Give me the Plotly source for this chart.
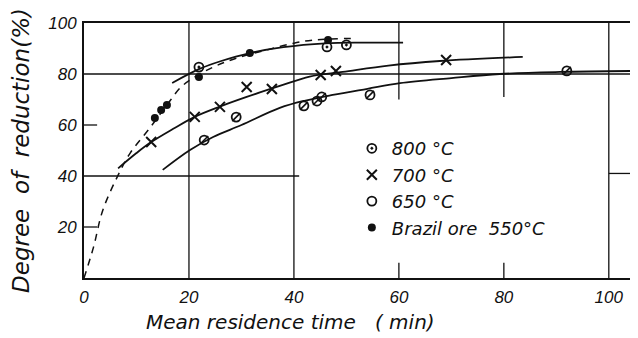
import plotly.graph_objects as go

# ---- data ----
x800 = [21.9, 46.3, 50.0]
y800 = [82.7, 90.6, 91.4]
x700 = [12.8, 21.1, 25.9, 31.0, 35.8, 45.1, 48.0, 69.0]
y700 = [53.3, 63.2, 67.1, 74.9, 74.1, 79.6, 81.2, 85.5]
x650 = [22.9, 29.0, 41.9, 44.4, 45.3, 54.5, 92.0]
y650 = [54.1, 63.1, 67.5, 69.4, 71.0, 71.8, 81.2]
xbr = [13.5, 14.7, 15.8, 21.9, 31.6, 46.5]
ybr = [62.7, 65.9, 67.8, 78.8, 88.2, 93.3]

# fitted curves as drawn in the original
c800_x = [16.8, 22.0, 26.0, 31.6, 38.0, 46.0, 53.0, 60.8]
c800_y = [76.5, 82.0, 85.0, 88.2, 90.5, 92.0, 92.3, 92.3]
c700_x = [6.5, 10.0, 12.8, 17.0, 21.1, 26.0, 31.0, 37.3, 43.0, 49.3, 58.0, 67.8, 83.6]
c700_y = [43.0, 49.0, 53.3, 58.5, 63.2, 67.3, 71.0, 75.3, 79.0, 80.8, 83.3, 85.1, 86.7]
c650_x = [15.0, 20.2, 24.6, 30.0, 37.3, 42.0, 47.4, 54.0, 60.2, 70.0, 79.2, 90.7, 104.8]
c650_y = [42.4, 50.2, 55.3, 60.0, 66.7, 69.5, 71.8, 74.2, 76.4, 78.4, 80.0, 80.8, 81.2]
cbr_x = [0.0, 1.8, 3.6, 6.9, 8.8, 12.6, 15.5, 18.3, 20.2, 24.6, 29.0, 34.8, 39.8, 43.6, 52.0]
cbr_y = [0.0, 12.0, 26.7, 42.0, 49.0, 59.0, 67.0, 74.5, 77.6, 82.7, 86.2, 89.4, 92.0, 93.3, 94.0]

x_ticks = [0, 20, 40, 60, 80, 100]
y_ticks = [20, 40, 60, 80, 100]
labels = ["800 °C", "700 °C", "650 °C", "Brazil ore  550°C"]
x_title = "Mean residence time   ( min)"
y_title = "Degree  of  reduction(%)"

FONT = "Liberation Sans"
LFONT = "DejaVu Sans"
ink = "#111111"

fig = go.Figure()

line_style = dict(color=ink, width=1.8, shape="spline")
fig.add_trace(go.Scatter(x=c800_x, y=c800_y, mode="lines", line=line_style, showlegend=False, hoverinfo="skip"))
fig.add_trace(go.Scatter(x=c700_x, y=c700_y, mode="lines", line=line_style, showlegend=False, hoverinfo="skip"))
fig.add_trace(go.Scatter(x=c650_x, y=c650_y, mode="lines", line=line_style, showlegend=False, hoverinfo="skip"))
fig.add_trace(go.Scatter(x=cbr_x, y=cbr_y, mode="lines",
                         line=dict(color=ink, width=1.5, shape="spline", dash="7px,6px"),
                         showlegend=False, hoverinfo="skip"))

fig.add_trace(go.Scatter(x=x800, y=y800, mode="markers", name=labels[0],
                         marker=dict(symbol="circle-open-dot", size=9, color=ink, line=dict(width=1.8, color=ink))))
fig.add_trace(go.Scatter(x=x700, y=y700, mode="markers", name=labels[1],
                         marker=dict(symbol="x-thin", size=10, color=ink, line=dict(width=2, color=ink))))
fig.add_trace(go.Scatter(x=x650, y=y650, mode="markers", name=labels[2], legendgroup="650",
                         marker=dict(symbol="circle-open", size=9, color=ink, line=dict(width=1.8, color=ink))))
fig.add_trace(go.Scatter(x=x650, y=y650, mode="markers", showlegend=False, legendgroup="650",
                         marker=dict(symbol="line-ne-open", size=8, color=ink, line=dict(width=1.6, color=ink))))
fig.add_trace(go.Scatter(x=xbr, y=ybr, mode="markers", name=labels[3],
                         marker=dict(symbol="circle", size=8, color=ink)))

# partial grid lines of the original
grid = dict(color=ink, width=1.3)
shapes = [
    dict(type="line", x0=20, x1=20, y0=0, y1=100, line=grid),
    dict(type="line", x0=40, x1=40, y0=0, y1=100, line=grid),
    dict(type="line", x0=100, x1=100, y0=0, y1=100, line=grid),
    dict(type="line", x0=60, x1=60, y0=70, y1=100, line=grid),
    dict(type="line", x0=80, x1=80, y0=71, y1=100, line=grid),
    dict(type="line", x0=60, x1=60, y0=0, y1=6, line=grid),
    dict(type="line", x0=80, x1=80, y0=0, y1=6, line=grid),
    dict(type="line", x0=0, x1=104.8, y0=80, y1=80, line=grid),
    dict(type="line", x0=0, x1=41, y0=40, y1=40, line=grid),
    dict(type="line", x0=100, x1=104.8, y0=41, y1=41, line=grid),
    dict(type="line", x0=0, x1=2.5, y0=60, y1=60, line=grid),
    dict(type="line", x0=0, x1=2.5, y0=20, y1=20, line=grid),
]

# page body adds an 8px offset; compensate so the plot area sits where the original's does
fig.update_layout(
    width=630, height=330,
    margin=dict(l=76, r=4, t=15, b=60),
    paper_bgcolor="white", plot_bgcolor="white",
    font=dict(family=FONT, color=ink, style="italic"),
    shapes=shapes,
    showlegend=True,
    legend=dict(x=0.487, y=0.58, xanchor="left", yanchor="top",
                bgcolor="rgba(0,0,0,0)", font=dict(size=18, family=LFONT, style="italic"),
                tracegroupgap=0, itemwidth=30),
    annotations=[dict(text=x_title, xref="paper", yref="paper", x=0.375, y=-0.173,
                      xanchor="center", yanchor="middle", showarrow=False,
                      font=dict(family=LFONT, size=20, style="italic", color=ink))],
    xaxis=dict(range=[0, 104.8], tickvals=x_ticks, ticktext=[str(v) for v in x_ticks],
               showgrid=False, zeroline=False, showline=True, linecolor=ink, linewidth=2, mirror=True,
               ticks="", tickfont=dict(size=17, style="italic"), automargin=False, ticklabelstandoff=3),
    yaxis=dict(range=[0, 100], tickvals=y_ticks, ticktext=[str(v) for v in y_ticks],
               showgrid=False, zeroline=False, showline=True, linecolor=ink, linewidth=2, mirror=True,
               ticks="", tickfont=dict(size=17, style="italic"), automargin=False, ticklabelstandoff=2,
               title=dict(text=y_title, font=dict(family=LFONT, size=23, style="italic"), standoff=12)),
)

fig.write_html("out.html")
